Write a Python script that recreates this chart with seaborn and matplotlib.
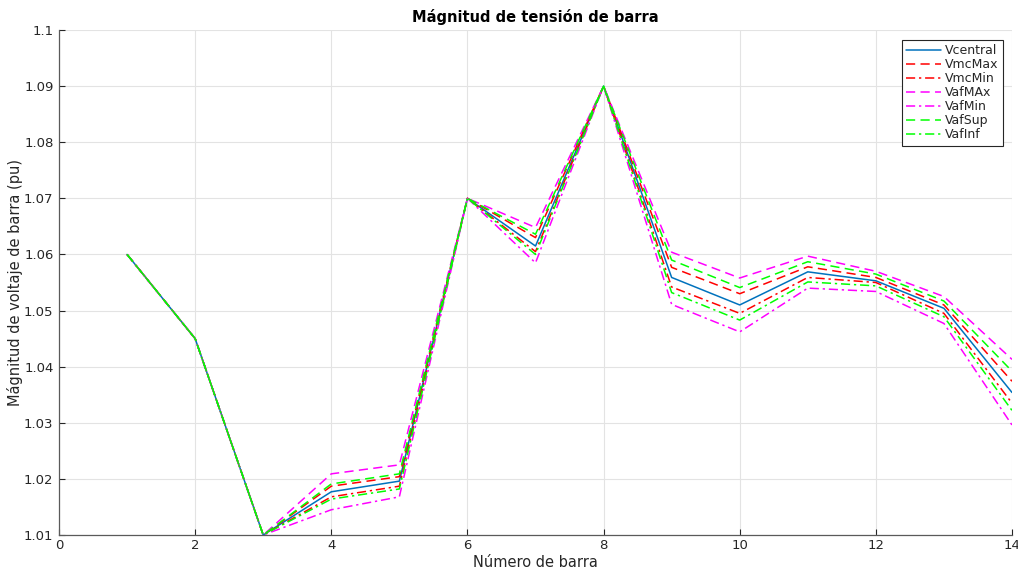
import matplotlib
matplotlib.use("Agg")
import matplotlib.pyplot as plt
import seaborn as sns
import pandas as pd
from matplotlib.ticker import FixedLocator, FixedFormatter

barras = [1, 2, 3, 4, 5, 6, 7, 8, 9, 10, 11, 12, 13, 14]

v_central = [1.060, 1.045, 1.010, 1.0177, 1.0196, 1.070, 1.0615, 1.090, 1.0559, 1.0510, 1.0569, 1.0553, 1.0504, 1.0354]
vmc_max   = [1.060, 1.045, 1.010, 1.0187, 1.0204, 1.070, 1.0630, 1.090, 1.0577, 1.0530, 1.0578, 1.0559, 1.0510, 1.0374]
vmc_min   = [1.060, 1.045, 1.010, 1.0168, 1.0187, 1.070, 1.0605, 1.090, 1.0542, 1.0495, 1.0559, 1.0550, 1.0495, 1.0335]
vaf_max   = [1.060, 1.045, 1.010, 1.0209, 1.0225, 1.070, 1.0648, 1.090, 1.0604, 1.0558, 1.0597, 1.0570, 1.0525, 1.0413]
vaf_min   = [1.060, 1.045, 1.010, 1.0145, 1.0168, 1.070, 1.0585, 1.090, 1.0511, 1.0462, 1.0540, 1.0534, 1.0477, 1.0296]
vaf_sup   = [1.060, 1.045, 1.010, 1.0191, 1.0209, 1.070, 1.0636, 1.090, 1.0590, 1.0541, 1.0587, 1.0565, 1.0517, 1.0392]
vaf_inf   = [1.060, 1.045, 1.010, 1.0164, 1.0182, 1.070, 1.0600, 1.090, 1.0532, 1.0483, 1.0551, 1.0544, 1.0489, 1.0322]

series = [
    ("Vcentral", v_central, "#0072BD", "-"),
    ("VmcMax", vmc_max, "#FF0000", (0, (6, 3.5))),
    ("VmcMin", vmc_min, "#FF0000", (0, (6, 2.5, 1.5, 2.5))),
    ("VafMAx", vaf_max, "#FF00FF", (0, (6, 3.5))),
    ("VafMin", vaf_min, "#FF00FF", (0, (6, 2.5, 1.5, 2.5))),
    ("VafSup", vaf_sup, "#00FF00", (0, (6, 3.5))),
    ("VafInf", vaf_inf, "#00FF00", (0, (6, 2.5, 1.5, 2.5))),
]

sns.set_theme(style="white")
plt.rcParams["font.family"] = ["DejaVu Sans"]

fig = plt.figure(figsize=(10.18, 5.72), dpi=100)
ax = fig.add_axes([59 / 1018, 1 - 535 / 572, (1012 - 59) / 1018, (535 - 30) / 572])

for name, vals, color, ls in series:
    df = pd.DataFrame({"barra": barras, "v": vals})
    sns.lineplot(data=df, x="barra", y="v", ax=ax, color=color, linestyle=ls,
                 linewidth=1.1, label=name)

ax.set_xlim(0, 14)
ax.set_ylim(1.01, 1.1)
ax.xaxis.set_major_locator(FixedLocator([0, 2, 4, 6, 8, 10, 12, 14]))
yt = [1.01, 1.02, 1.03, 1.04, 1.05, 1.06, 1.07, 1.08, 1.09, 1.1]
ax.yaxis.set_major_locator(FixedLocator(yt))
ax.yaxis.set_major_formatter(FixedFormatter(["1.01", "1.02", "1.03", "1.04", "1.05",
                                             "1.06", "1.07", "1.08", "1.09", "1.1"]))
ax.grid(True, color="#e3e3e3", linewidth=0.8)
ax.set_axisbelow(True)
for s in ["top", "right"]:
    ax.spines[s].set_visible(False)
for s in ["left", "bottom"]:
    ax.spines[s].set_color("#5a5a5a")
    ax.spines[s].set_linewidth(0.9)
ax.tick_params(direction="in", length=4, width=0.8, colors="#262626", labelsize=9.5,
               left=True, bottom=True)
ax.tick_params(axis="x", pad=3)
ax.tick_params(axis="y", pad=4)

ax.set_title("Mágnitud de tensión de barra", fontsize=10.5, fontweight="bold", color="black", pad=6)
ax.set_xlabel("Número de barra", fontsize=10.5, color="#262626", labelpad=2)
ax.set_ylabel("Mágnitud de voltaje de barra (pu)", fontsize=10.5, color="#262626", labelpad=1)

leg = ax.legend(loc="upper right", bbox_to_anchor=(0.9906, 0.980), borderaxespad=0,
                fontsize=9, frameon=True, fancybox=False, edgecolor="#262626", framealpha=1,
                handlelength=2.8, borderpad=0.35, labelspacing=0.08, handletextpad=0.3)
leg.get_frame().set_linewidth(0.8)

fig.savefig("out.png", dpi=100)
